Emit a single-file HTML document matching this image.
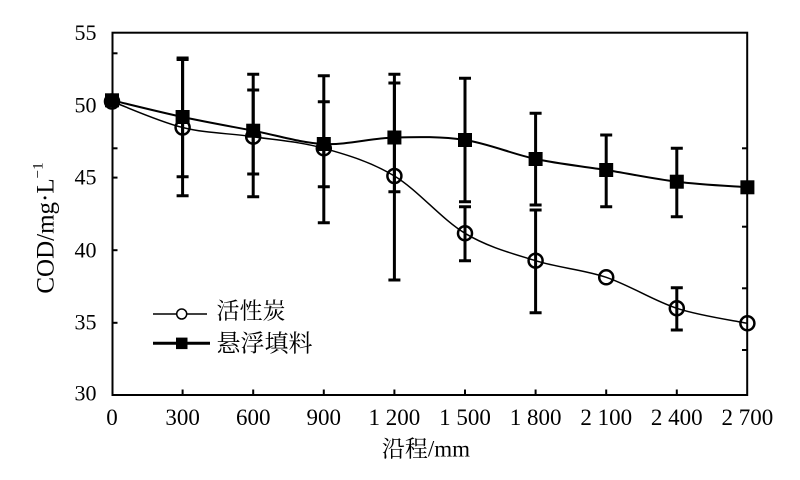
<!DOCTYPE html>
<html>
<head>
<meta charset="utf-8">
<style>
html,body{margin:0;padding:0;background:#fff;}
svg{display:block;}
text{fill:#000;}
.lab{font-family:"Liberation Serif","Noto Serif CJK SC",serif;}
.cjk{font-family:"Liberation Serif","Noto Serif CJK SC","Noto Sans CJK SC",serif;}
</style>
</head>
<body>
<svg width="800" height="480" viewBox="0 0 800 480" xmlns="http://www.w3.org/2000/svg">
<rect x="0" y="0" width="800" height="480" fill="#fff"/>

<!-- frame -->
<rect x="112.5" y="32.7" width="634.7" height="362.3" fill="none" stroke="#000" stroke-width="2"/>

<!-- x ticks -->
<g stroke="#000" stroke-width="2">
<line x1="182.6" y1="395" x2="182.6" y2="389.5"/>
<line x1="253.2" y1="395" x2="253.2" y2="389.5"/>
<line x1="323.8" y1="395" x2="323.8" y2="389.5"/>
<line x1="394.4" y1="395" x2="394.4" y2="389.5"/>
<line x1="465" y1="395" x2="465" y2="389.5"/>
<line x1="535.6" y1="395" x2="535.6" y2="389.5"/>
<line x1="606.2" y1="395" x2="606.2" y2="389.5"/>
<line x1="676.8" y1="395" x2="676.8" y2="389.5"/>
<!-- left ticks -->
<line x1="112.5" y1="53.3" x2="117.5" y2="53.3"/>
<line x1="112.5" y1="148.3" x2="117.5" y2="148.3"/>
<line x1="112.5" y1="177.6" x2="117.5" y2="177.6"/>
<line x1="112.5" y1="250.2" x2="117.5" y2="250.2"/>
<line x1="112.5" y1="322.8" x2="117.5" y2="322.8"/>
<!-- right ticks -->
<line x1="747.2" y1="148.3" x2="742" y2="148.3"/>
<line x1="747.2" y1="226.7" x2="742" y2="226.7"/>
<line x1="747.2" y1="288.3" x2="742" y2="288.3"/>
<line x1="747.2" y1="350" x2="742" y2="350"/>
</g>

<!-- y tick labels -->
<g class="lab" font-size="22" text-anchor="end">
<text x="96.5" y="40">55</text>
<text x="96.5" y="112.5">50</text>
<text x="96.5" y="184.5">45</text>
<text x="96.5" y="257.5">40</text>
<text x="96.5" y="329.5">35</text>
<text x="96.5" y="400.5">30</text>
</g>

<!-- x tick labels -->
<g class="lab" font-size="23" text-anchor="middle">
<text x="112" y="425">0</text>
<text x="182.6" y="425">300</text>
<text x="253.2" y="425">600</text>
<text x="323.8" y="425">900</text>
<text x="394.4" y="425">1 200</text>
<text x="465" y="425">1 500</text>
<text x="535.6" y="425">1 800</text>
<text x="606.2" y="425">2 100</text>
<text x="676.8" y="425">2 400</text>
<text x="747.4" y="425">2 700</text>
</g>

<!-- axis titles -->
<text class="cjk" x="426" y="456.5" font-size="23" text-anchor="middle">沿程/mm</text>
<text class="lab" font-size="25" text-anchor="middle" transform="translate(53.5,228) rotate(-90)">COD/mg·L<tspan font-size="15" dy="-11">−1</tspan></text>

<!-- series lines -->
<path d="M112,100.3 C123.77,103.08 159.07,111.93 182.6,117 C206.13,122.07 229.67,126.2 253.2,130.7 C276.73,135.2 300.27,142.87 323.8,144 C347.33,145.13 370.87,138.17 394.4,137.5 C417.93,136.83 441.47,136.42 465,140 C488.53,143.58 512.07,154 535.6,159 C559.13,164 582.67,166.22 606.2,170 C629.73,173.78 653.27,178.82 676.8,181.7 C700.33,184.58 735.63,186.37 747.4,187.3" fill="none" stroke="#000" stroke-width="2"/>
<path d="M112,101.5 C123.77,105.83 159.07,121.63 182.6,127.5 C206.13,133.37 229.67,133.23 253.2,136.7 C276.73,140.17 300.27,141.75 323.8,148.3 C347.33,154.85 370.87,161.83 394.4,176 C417.93,190.17 441.47,219.18 465,233.3 C488.53,247.42 512.07,253.37 535.6,260.7 C559.13,268.03 582.67,269.37 606.2,277.3 C629.73,285.23 653.27,300.63 676.8,308.3 C700.33,315.97 735.63,320.8 747.4,323.3" fill="none" stroke="#000" stroke-width="1.5"/>

<!-- error bars -->
<g stroke="#000" stroke-width="3" fill="none">
<!-- 300 -->
<path d="M182.6,58 V176.7 M176.6,58 H188.6 M176.6,176.7 H188.6"/>
<path d="M182.6,59.5 V195.7 M176.6,59.5 H188.6 M176.6,195.7 H188.6"/>
<!-- 600 -->
<path d="M253.2,90 V174 M247.2,90 H259.2 M247.2,174 H259.2"/>
<path d="M253.2,74.3 V196.7 M247.2,74.3 H259.2 M247.2,196.7 H259.2"/>
<!-- 900 -->
<path d="M323.8,101.7 V186.7 M317.8,101.7 H329.8 M317.8,186.7 H329.8"/>
<path d="M323.8,75.7 V222.7 M317.8,75.7 H329.8 M317.8,222.7 H329.8"/>
<!-- 1200 -->
<path d="M394.4,83 V191.7 M388.4,83 H400.4 M388.4,191.7 H400.4"/>
<path d="M394.4,74.3 V280 M388.4,74.3 H400.4 M388.4,280 H400.4"/>
<!-- 1500 -->
<path d="M465,78.3 V201.7 M459,78.3 H471 M459,201.7 H471"/>
<path d="M465,206.7 V260.7 M459,206.7 H471 M459,260.7 H471"/>
<!-- 1800 -->
<path d="M535.6,113.3 V205 M529.6,113.3 H541.6 M529.6,205 H541.6"/>
<path d="M535.6,210 V312.7 M529.6,210 H541.6 M529.6,312.7 H541.6"/>
<!-- 2100 -->
<path d="M606.2,135 V206.7 M600.2,135 H612.2 M600.2,206.7 H612.2"/>
<!-- 2400 -->
<path d="M676.8,148.3 V216.7 M670.8,148.3 H682.8 M670.8,216.7 H682.8"/>
<path d="M676.8,287.7 V330 M670.8,287.7 H682.8 M670.8,330 H682.8"/>
</g>

<!-- circle markers -->
<g fill="none" stroke="#000" stroke-width="2.5">
<circle cx="112" cy="101.5" r="7"/>
<circle cx="182.6" cy="127.5" r="7"/>
<circle cx="253.2" cy="136.7" r="7"/>
<circle cx="323.8" cy="148.3" r="7"/>
<circle cx="394.4" cy="176" r="7"/>
<circle cx="465" cy="233.3" r="7"/>
<circle cx="535.6" cy="260.7" r="7"/>
<circle cx="606.2" cy="277.3" r="7"/>
<circle cx="676.8" cy="308.3" r="7"/>
<circle cx="747.4" cy="323.3" r="7"/>
</g>

<!-- square markers -->
<g fill="#000">
<rect x="105" y="93.3" width="14" height="14"/>
<rect x="175.6" y="110" width="14" height="14"/>
<rect x="246.2" y="123.7" width="14" height="14"/>
<rect x="316.8" y="137" width="14" height="14"/>
<rect x="387.4" y="130.5" width="14" height="14"/>
<rect x="458" y="133" width="14" height="14"/>
<rect x="528.6" y="152" width="14" height="14"/>
<rect x="599.2" y="163" width="14" height="14"/>
<rect x="669.8" y="174.7" width="14" height="14"/>
<rect x="740.4" y="180.3" width="14" height="14"/>
</g>

<!-- legend -->
<line x1="153" y1="314" x2="207" y2="314" stroke="#000" stroke-width="1.5"/>
<circle cx="181.7" cy="314" r="5" fill="#fff" stroke="#000" stroke-width="1.5"/>
<text class="cjk" x="216.5" y="318.5" font-size="23">活性炭</text>
<line x1="153" y1="343.3" x2="210" y2="343.3" stroke="#000" stroke-width="3"/>
<rect x="176" y="337.6" width="11.5" height="11.5" fill="#000"/>
<text class="cjk" x="216.5" y="351.5" font-size="24">悬浮填料</text>
</svg>
</body>
</html>
